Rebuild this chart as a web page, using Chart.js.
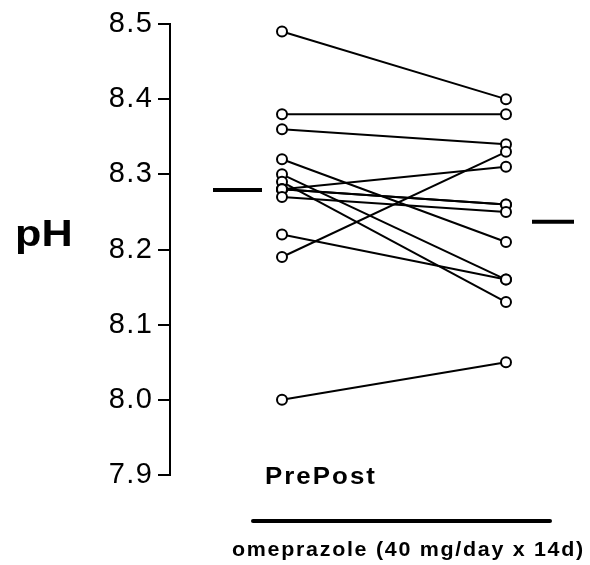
<!DOCTYPE html>
<html><head><meta charset="utf-8">
<script src="https://cdn.jsdelivr.net/npm/chart.js@4.4.1/dist/chart.umd.min.js"></script>
<style>html,body{margin:0;padding:0;background:#fff;}#wrap{width:590px;height:565px;}</style>
</head><body><div id="wrap"><canvas id="c" width="590" height="565"></canvas></div>
<script>
const categories = ['Pre', 'Post'];
const preValues  = [8.49, 8.38, 8.36, 8.32, 8.30, 8.29, 8.28, 8.28, 8.28, 8.27, 8.22, 8.19, 8.00];
const postValues = [8.40, 8.38, 8.34, 8.21, 8.16, 8.13, 8.31, 8.26, 8.26, 8.25, 8.16, 8.33, 8.05];
const meanValues = [8.279, 8.237];
const yTicks = [7.9, 8.0, 8.1, 8.2, 8.3, 8.4, 8.5];
const yTitle = 'pH';
const groupLabel = 'omeprazole (40 mg/day x 14d)';

const FONT = "'Liberation Sans', Arial, Helvetica, sans-serif";
const xOf = i => i + 1;

const datasets = [];
datasets.push({
  label: categories[0],
  data: preValues.map(v => ({x: xOf(0), y: v})),
  showLine: false, pointRadius: 5, pointBorderWidth: 2,
  pointBackgroundColor: '#fff', pointBorderColor: '#000', order: 0, clip: false
});
datasets.push({
  label: categories[1],
  data: postValues.map(v => ({x: xOf(1), y: v})),
  showLine: false, pointRadius: 5, pointBorderWidth: 2,
  pointBackgroundColor: '#fff', pointBorderColor: '#000', order: 0, clip: false
});
preValues.forEach((v, i) => {
  datasets.push({
    label: 'subject ' + (i + 1),
    data: [{x: xOf(0), y: v}, {x: xOf(1), y: postValues[i]}],
    showLine: true, borderColor: '#000', borderWidth: 2,
    pointRadius: 0, order: 1, clip: false
  });
});

function stretchText(ctx, text, x, y, font, sx, ls) {
  ctx.save();
  ctx.font = font;
  ctx.letterSpacing = ls;
  ctx.translate(x, y);
  ctx.scale(sx, 1);
  ctx.fillText(text, 0, 0);
  ctx.restore();
}

const decor = {
  id: 'decor',
  beforeDraw(chart) { chart.ctx.letterSpacing = '1.5px'; },
  afterDraw(chart) {
    const ctx = chart.ctx, xs = chart.scales.x, ys = chart.scales.y;
    ctx.save();
    ctx.letterSpacing = '0px';
    // mean bars
    ctx.strokeStyle = '#000'; ctx.lineWidth = 4; ctx.lineCap = 'butt';
    const offs = [[-69, -20], [26, 68]];
    meanValues.forEach((m, i) => {
      const cx = xs.getPixelForValue(xOf(i));
      const y = ys.getPixelForValue(m);
      ctx.beginPath(); ctx.moveTo(cx + offs[i][0], y); ctx.lineTo(cx + offs[i][1], y); ctx.stroke();
    });
    ctx.fillStyle = '#000';
    ctx.textBaseline = 'alphabetic'; ctx.textAlign = 'left';
    stretchText(ctx, yTitle, 15, 246, 'bold 36px ' + FONT, 1.2, '0px');
    stretchText(ctx, categories.join(''), 265, 484, 'bold 23.5px ' + FONT, 1.1, '1.85px');
    // group bracket
    ctx.lineWidth = 4; ctx.lineCap = 'round';
    ctx.beginPath(); ctx.moveTo(253, 521); ctx.lineTo(550, 521); ctx.stroke();
    stretchText(ctx, groupLabel, 232, 556, 'bold 19.5px ' + FONT, 1.1, '1.55px');
    ctx.restore();
  }
};

new Chart(document.getElementById('c'), {
  type: 'scatter',
  data: { datasets },
  options: {
    responsive: false, animation: false,
    layout: { padding: { left: 80, top: 24, right: 10, bottom: 90 } },
    plugins: { legend: { display: false }, tooltip: { enabled: false } },
    scales: {
      x: { type: 'linear', min: 0.5, max: 0.5 + 205 / 112, display: false },
      y: {
        type: 'linear', min: 7.9, max: 8.5,
        afterBuildTicks: s => { s.ticks = yTicks.map(v => ({ value: v })); },
        afterFit: s => { s.width = 90; },
        ticks: { color: '#000', padding: 4.5, font: { family: FONT, size: 29 }, callback: v => Number(v).toFixed(1) },
        grid: { display: true, drawOnChartArea: false, drawTicks: true, tickLength: 12, color: '#000', lineWidth: 2 },
        border: { display: true, color: '#000', width: 2 }
      }
    }
  },
  plugins: [decor]
});
</script></body></html>
